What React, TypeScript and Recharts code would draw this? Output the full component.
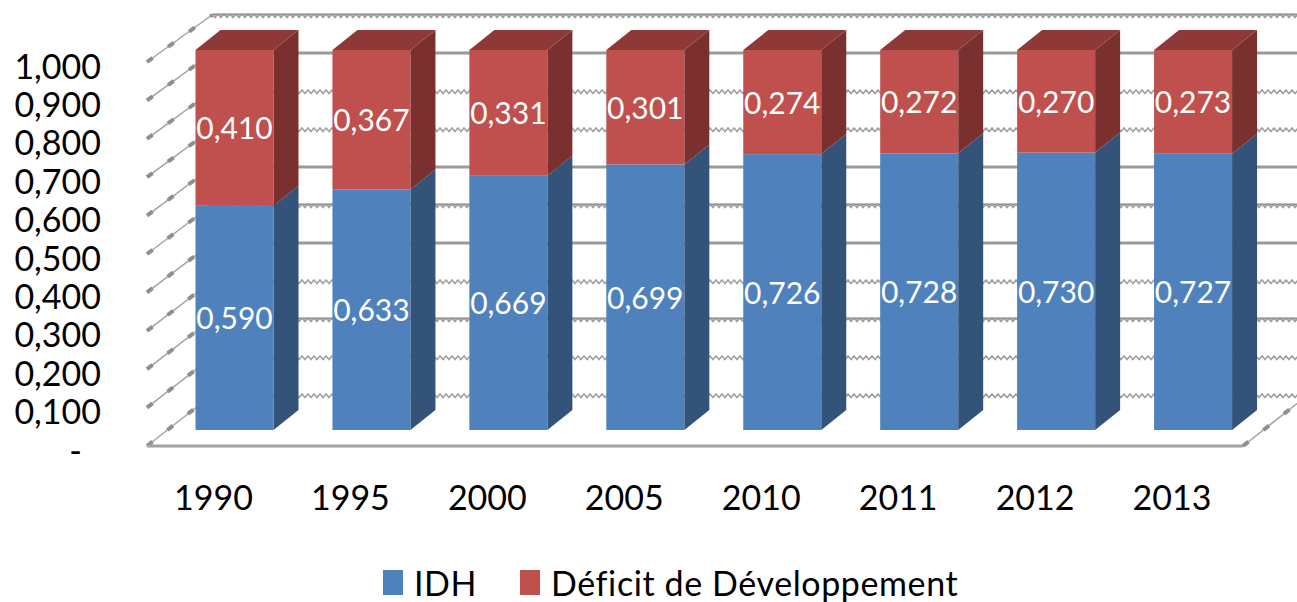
import { Bar, BarChart, CartesianGrid, LabelList, Legend, XAxis, YAxis } from "recharts";

const ANNEES = ["1990", "1995", "2000", "2005", "2010", "2011", "2012", "2013"];
const IDH = [0.59, 0.633, 0.669, 0.699, 0.726, 0.728, 0.73, 0.727];
const DEFICIT = [0.41, 0.367, 0.331, 0.301, 0.274, 0.272, 0.27, 0.273];
const GRADUATIONS = [0, 0.1, 0.2, 0.3, 0.4, 0.5, 0.6, 0.7, 0.8, 0.9, 1];

const data = ANNEES.map((annee, i) => ({ annee, idh: IDH[i], deficit: DEFICIT[i] }));

const POLICE = "Lato, 'Open Sans', sans-serif";
const GRIS = "#a2a2a2";

// profondeur de la 3D des barres
const DX = 25;
const DY = 20;

// style des lignes du mur du fond : pleines, dents de scie foncees, le reste en dents claires
const LIGNES_PLEINES = [0.9, 0.6, 0.4];
const LIGNES_FONCEES = [1, 0.5, 0.2];

const virgule = (v: number) => v.toFixed(3).replace(".", ",");
const dans = (liste: number[], v: number) => liste.some((l) => Math.abs(l - v) < 0.01);

function Barre3D({ x, y, width, height, face, cote, dessus }: any) {
  const d = x + width;
  return (
    <g>
      <polygon
        points={`${d},${y} ${d + DX},${y - DY} ${d + DX},${y + height - DY} ${d},${y + height}`}
        fill={cote}
      />
      {dessus && (
        <polygon points={`${x},${y} ${x + DX},${y - DY} ${d + DX},${y - DY} ${d},${y}`} fill={dessus} />
      )}
      <rect x={x} y={y} width={width} height={height} fill={face} />
    </g>
  );
}

function dentsDeScie(y: number) {
  let d = `M212,${y}`;
  for (let x = 215, i = 0; x <= 1300; x += 3, i++) {
    d += ` L${x},${y + (i % 2 === 0 ? 3.5 : 0)}`;
  }
  return d;
}

// mur du fond (axe "fond")
function LigneFond(props: any) {
  const y = props.y1;
  const valeur = (395 - y) / 380;
  if (dans(LIGNES_PLEINES, valeur)) {
    return <line key={props.key} x1={212} x2={1297} y1={y} y2={y} stroke="#9a9a9a" strokeWidth={3} />;
  }
  const foncee = dans(LIGNES_FONCEES, valeur);
  return (
    <g key={props.key}>
      {foncee && <line x1={212} x2={1297} y1={y - 0.5} y2={y - 0.5} stroke="#8c8c8c" strokeWidth={2} />}
      <path d={dentsDeScie(y - 1)} fill="none" stroke="#a0a0a0" strokeWidth={1.6} />
    </g>
  );
}

function Diagonale({ x1, y1, x2, y2 }: any) {
  return (
    <g>
      <line x1={x1} x2={x2} y1={y1} y2={y2} stroke={GRIS} strokeWidth={1.5} />
      <line x1={x1} x2={x2} y1={y1} y2={y2} stroke="#8f8f8f" strokeWidth={4} strokeDasharray="7 19" />
    </g>
  );
}

// petites diagonales a gauche et plancher (axe "gauche")
function LigneCote(props: any) {
  const y = props.y1;
  const fond = 395 - (380 * (446 - y)) / 384;
  const zero = Math.abs(y - 446) < 1;
  return (
    <g key={props.key}>
      <Diagonale x1={147} y1={y} x2={212} y2={fond} />
      {zero && (
        <>
          <line x1={147} x2={1243} y1={446} y2={446} stroke={GRIS} strokeWidth={3} />
          <Diagonale x1={1243} y1={446} x2={1308} y2={395} />
        </>
      )}
    </g>
  );
}

function TickGauche({ y, payload }: any) {
  const zero = payload.value === 0;
  return (
    <text
      x={zero ? 82 : 101}
      y={y + 8}
      textAnchor="end"
      dominantBaseline="middle"
      fontFamily={POLICE}
      fontSize={34}
      fill="#000"
    >
      {zero ? "-" : virgule(payload.value)}
    </text>
  );
}

function TickBas({ x, y, payload }: any) {
  return (
    <text x={x - 21.5} y={y + 9} textAnchor="middle" dominantBaseline="middle" fontFamily={POLICE} fontSize={34} fill="#000">
      {payload.value}
    </text>
  );
}

function Etiquette({ x, y, width, height, value }: any) {
  return (
    <text
      x={x + width / 2}
      y={y + height / 2 + 4}
      textAnchor="middle"
      dominantBaseline="middle"
      fontFamily={POLICE}
      fontSize={30}
      fill="#fff"
    >
      {virgule(value)}
    </text>
  );
}

function Legende({ payload }: any) {
  const positions = [383, 520];
  return (
    <div style={{ position: "relative", height: 50, fontFamily: POLICE, fontSize: 34, letterSpacing: 0.6, color: "#000" }}>
      {(payload || []).map((e: any, i: number) => (
        <div key={e.value} style={{ position: "absolute", left: positions[i], top: 10, display: "flex", alignItems: "center" }}>
          <span style={{ width: 20, height: 25, background: e.color, marginRight: 11, display: "inline-block" }} />
          <span style={{ whiteSpace: "nowrap" }}>{e.value}</span>
        </div>
      ))}
    </div>
  );
}

export default function App() {
  return (
    <div style={{ position: "absolute", left: 0, top: 0, width: 1297, height: 602, background: "#fff" }}>
      <BarChart
        width={1297}
        height={602}
        data={data}
        margin={{ top: 15, right: 35, bottom: 0, left: 0 }}
        barSize={78}
      >
        <CartesianGrid yAxisId="fond" vertical={false} horizontalValues={GRADUATIONS} horizontal={(p: any) => <LigneFond {...p} />} />
        <CartesianGrid yAxisId="gauche" vertical={false} horizontalValues={GRADUATIONS} horizontal={(p: any) => <LigneCote {...p} />} />
        <XAxis
          dataKey="annee"
          axisLine={false}
          tickLine={false}
          height={106}
          tick={<TickBas />}
          tickMargin={40}
          interval={0}
        />
        <YAxis
          yAxisId="gauche"
          width={166.5}
          domain={[0, 431 / 384]}
          allowDataOverflow
          ticks={GRADUATIONS}
          interval={0}
          axisLine={false}
          tickLine={false}
          tick={<TickGauche />}
        />
        <YAxis yAxisId="fond" hide domain={[-51 / 380, 1]} allowDataOverflow ticks={GRADUATIONS} />
        <YAxis yAxisId="barres" hide domain={[-16 / 380, 1 + 35 / 380]} allowDataOverflow />
        <Legend verticalAlign="bottom" height={50} itemSorter={null} content={<Legende />} />
        <Bar
          yAxisId="barres"
          dataKey="idh"
          name="IDH"
          stackId="a"
          fill="#4f81bd"
          isAnimationActive={false}
          shape={(p: any) => <Barre3D {...p} face="#4f81bd" cote="#335478" />}
        >
          <LabelList dataKey="idh" content={<Etiquette />} />
        </Bar>
        <Bar
          yAxisId="barres"
          dataKey="deficit"
          name="Déficit de Développement"
          stackId="a"
          fill="#c0504d"
          isAnimationActive={false}
          shape={(p: any) => <Barre3D {...p} face="#c0504d" cote="#7a302e" dessus="#8e3937" />}
        >
          <LabelList dataKey="deficit" content={<Etiquette />} />
        </Bar>
      </BarChart>
    </div>
  );
}
